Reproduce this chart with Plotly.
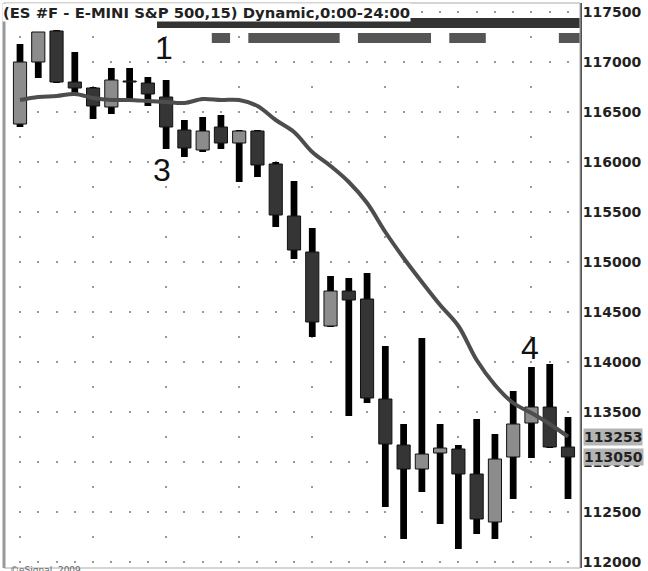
import plotly.graph_objects as go

# 15-minute bars, index 0..30
opens = [116380, 117000, 117310, 116800, 116740, 116550, 116810, 116790, 116650, 116320,
         116120, 116350, 116190, 116310, 115980, 115460, 115100, 114360, 114710, 114630,
         113630, 113170, 112930, 113090, 113130, 112880, 112400, 113050, 113390, 113550, 113150]
highs = [117180, 117300, 117320, 117100, 116750, 116940, 116940, 116850, 116820, 116420,
         116450, 116470, 116320, 116320, 116000, 115810, 115340, 114860, 114840, 114890,
         114160, 113380, 114240, 113380, 113170, 113430, 113280, 113710, 113950, 113980, 113450]
lows = [116350, 116840, 116790, 116690, 116430, 116480, 116600, 116560, 116130, 116050,
        116100, 116130, 115800, 115850, 115350, 115030, 114250, 114350, 113460, 113590,
        112550, 112230, 112700, 112380, 112130, 112280, 112230, 112630, 113040, 113140, 112630]
closes = [117000, 117300, 116800, 116740, 116560, 116820, 116800, 116680, 116350, 116140,
          116310, 116190, 116310, 115970, 115470, 115120, 114400, 114710, 114620, 113640,
          113180, 112930, 113080, 113140, 112880, 112430, 113030, 113380, 113550, 113150, 113050]
ma = [116620, 116650, 116660, 116680, 116640, 116620, 116620, 116610, 116600, 116590,
      116630, 116620, 116620, 116560, 116420, 116300, 116100, 115960, 115800, 115590,
      115300, 115040, 114800, 114570, 114360, 114020, 113770, 113590, 113490, 113380, 113253]

# session bars at the top (in bar units)
long_bar = [7.5, 30.65]
seg_start = [10.5, 12.5, 18.5, 23.5, 29.5]
seg_end = [11.5, 17.5, 22.5, 25.5, 30.65]

price_ticks = list(range(112000, 117501, 500))
marks = [("1", 7.9, 117140), ("3", 7.8, 115920), ("4", 27.9, 114140)]
last_labels = [("113253", 113253), ("113050", 113050)]

FONT = "DejaVu Sans"
idx = list(range(len(opens)))
body_base = [min(o, c) for o, c in zip(opens, closes)]
body_h = [max(abs(c - o), 10) for o, c in zip(opens, closes)]
body_col = ["#8c8c8c" if c > o else "#353535" for o, c in zip(opens, closes)]

fig = go.Figure()
fig.add_trace(go.Scatter(x=idx, y=ma, mode="lines", line=dict(color="#4d4d4d", width=4, shape="spline"),
                         hoverinfo="skip"))
fig.add_trace(go.Bar(x=idx, base=lows, y=[h - l for h, l in zip(highs, lows)], width=0.37,
                     marker=dict(color="black", line=dict(width=0))))
fig.add_trace(go.Bar(x=idx, base=body_base, y=body_h, width=0.72,
                     marker=dict(color=body_col, line=dict(color="#111111", width=1))))

shapes = [dict(type="rect", xref="x", yref="y", x0=long_bar[0], x1=long_bar[1], y0=117340, y1=117440,
               fillcolor="#333333", line=dict(width=0))]
for s, e in zip(seg_start, seg_end):
    shapes.append(dict(type="rect", xref="x", yref="y", x0=s, x1=e, y0=117190, y1=117290,
                       fillcolor="#555555", line=dict(width=0)))
shapes.append(dict(type="rect", xref="paper", yref="paper", x0=0, x1=1, y0=0, y1=1,
                   line=dict(color="#aaaaaa", width=1)))
shapes.append(dict(type="line", xref="paper", yref="paper", x0=0, x1=0, y0=0, y1=1,
                   line=dict(color="#999999", width=3)))

annotations = [dict(xref="paper", yref="paper", x=0, y=1, xanchor="left", yanchor="top", xshift=-2, yshift=0,
                    text="(ES #F - E-MINI S&P 500,15) Dynamic,0:00-24:00", showarrow=False,
                    bgcolor="white", borderpad=0,
                    font=dict(family=FONT, size=14.8, color="#222222", weight="bold"))]
for t, x, y in marks:
    annotations.append(dict(x=x, y=y, text=t, showarrow=False,
                            font=dict(family="Liberation Sans", size=32, color="#111111")))
for t, y in last_labels:
    annotations.append(dict(xref="paper", yref="y", x=1, y=y, xanchor="left", xshift=3, text=t,
                            showarrow=False, bgcolor="#b4b4b4", borderpad=0,
                            font=dict(family=FONT, size=14, color="#222222", weight="bold")))
annotations.append(dict(xref="paper", yref="paper", x=0, y=0, xanchor="left", yanchor="middle", xshift=4, yshift=-2,
                        text="©eSignal, 2009", showarrow=False, font=dict(family=FONT, size=9, color="#666666")))

fig.update_layout(
    width=648, height=571, margin=dict(l=4, r=68, t=3, b=3, autoexpand=False),
    plot_bgcolor="white", paper_bgcolor="white", showlegend=False, barmode="overlay",
    shapes=shapes, annotations=annotations,
    xaxis=dict(range=[-0.876, 30.657], showticklabels=False, zeroline=False, ticks="",
               tick0=0, dtick=4, showgrid=True, gridcolor="#999999", gridwidth=2,
               griddash="0px,8px,2px,15px",
               minor=dict(tick0=0, dtick=1, showgrid=True, gridcolor="#999999", gridwidth=2,
                          griddash="0px,8px,2px,40px")),
    yaxis=dict(side="right", range=[111940, 117590], tickvals=price_ticks,
               ticktext=[str(v) for v in price_ticks], showgrid=False, zeroline=False,
               showline=True, linecolor="#555555", linewidth=2, ticks="", ticklabelstandoff=-2,
               tickfont=dict(family=FONT, size=14, color="#222222", weight="bold")),
)

# page body has an 8px default margin; drop it so the figure sits at the window corner
fig.write_html("out.html", config={"displayModeBar": False},
               post_script="document.body.style.margin='0';")
